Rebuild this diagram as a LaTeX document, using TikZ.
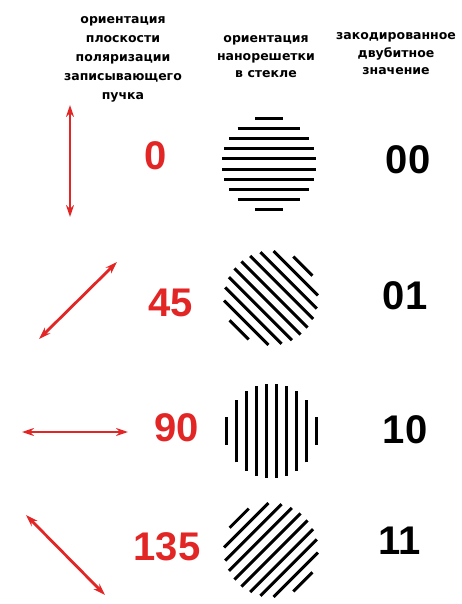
\documentclass[tikz,border=0pt]{standalone}
\usepackage{fontspec}
\setmainfont{DejaVu Sans}
\newfontfamily\digitfont{Liberation Sans}
\usetikzlibrary{arrows.meta}

\definecolor{polred}{RGB}{226,38,38}

\begin{document}
\begin{tikzpicture}[
        x=1pt, y=-1pt,
        head/.style={align=center, inner sep=0pt, anchor=base, font=\bfseries\fontsize{12.5}{17.5}\selectfont},
        angle/.style={inner sep=0pt, text=polred, font=\digitfont\bfseries\fontsize{40}{40}\selectfont},
        bits/.style={inner sep=0pt, font=\digitfont\bfseries\fontsize{40}{40}\selectfont},
        pol/.style={{Stealth[length=12pt, width=8pt]}-{Stealth[length=12pt, width=8pt]}, polred, line width=2.8pt},
        stroke/.style={line width=3pt}
    ]
        \useasboundingbox (0,0) rectangle (461,604);

        % column headers (base = last line)
        \node[head, font=\bfseries\fontsize{12.5}{19}\selectfont] (hpol) at (123,100) {ориентация\\плоскости\\поляризации\\записывающего\\пучка};
        \node[head] (hgrat) at (266,78) {ориентация\\нанорешетки\\в стекле};
        \node[head] (hcode) at (396,75) {закодированное\\двубитное\\значение};

        % polarization of the writing beam
        \coordinate (p0a) at (70,105);   \coordinate (p0b) at (70,217);
        \coordinate (p45a) at (39,339);  \coordinate (p45b) at (117,262);
        \coordinate (p90a) at (22,432);  \coordinate (p90b) at (128,432);
        \coordinate (p135a) at (26,515); \coordinate (p135b) at (105,595);
        \draw[pol] (p0a) -- (p0b);
        \draw[pol] (p45a) -- (p45b);
        \draw[pol] (p90a) -- (p90b);
        \draw[pol] (p135a) -- (p135b);

        \node[angle] (a0) at (156,156) {0};
        \node[angle] (a45) at (171,303) {45};
        \node[angle] (a90) at (177,428) {90};
        \node[angle] (a135) at (167,547) {135};

        % nanogratings
        \foreach \gx/\gy/\gr in {269/164/0, 271/298/-45, 271/431/90, 271/550/45} {
            \begin{scope}[shift={(\gx,\gy)}, rotate=\gr]
                \foreach \k in {-45,-35,...,45}
                    \draw[stroke] ({-sqrt(47*47-\k*\k)},\k) -- ({sqrt(47*47-\k*\k)},\k);
            \end{scope}
        }

        % two-bit values
        \node[bits] (b00) at (408,160) {00};
        \node[bits] (b01) at (405,296) {01};
        \node[bits] (b10) at (405,430) {10};
        \node[bits] (b11) at (400,541) {11};
    \end{tikzpicture}
\end{document}
